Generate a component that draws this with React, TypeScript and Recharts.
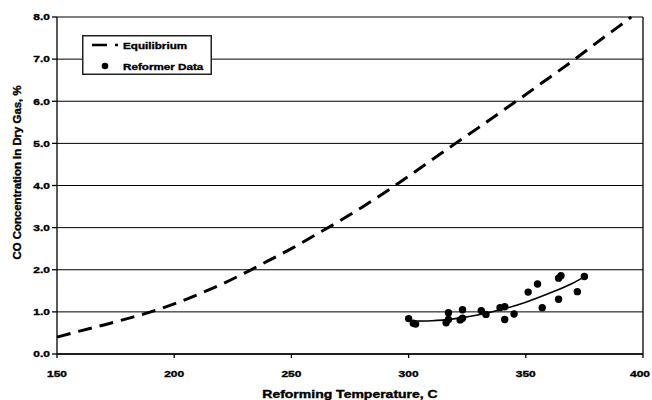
import {
  ComposedChart,
  Line,
  Scatter,
  XAxis,
  YAxis,
  CartesianGrid,
  Legend,
  ReferenceLine,
  Label,
} from 'recharts'

const FONT = '"Liberation Sans", Arial, sans-serif'

// equilibrium curve
const EQ_TEMP = [150, 160, 170, 180, 190, 200, 210, 220, 230, 240, 250, 260, 270, 280, 290, 300, 310, 320, 330, 340, 350, 360, 370, 380, 390, 395]
const EQ_CO = [0.4, 0.55, 0.69, 0.84, 1.0, 1.19, 1.41, 1.65, 1.92, 2.21, 2.5, 2.82, 3.14, 3.48, 3.84, 4.22, 4.61, 5.0, 5.38, 5.77, 6.16, 6.56, 6.96, 7.38, 7.79, 8.0]

// reformer measurements
const DATA_TEMP = [300, 302, 303, 316, 317, 317, 322, 323, 323, 331, 333, 339, 341, 341, 345, 351, 355, 357, 364, 365, 364, 372, 375]
const DATA_CO = [0.84, 0.73, 0.71, 0.74, 0.82, 0.98, 0.81, 1.05, 0.85, 1.03, 0.94, 1.1, 1.12, 0.82, 0.95, 1.47, 1.66, 1.1, 1.8, 1.86, 1.3, 1.48, 1.84]

// trendline through the measurements
const FIT_TEMP = [300, 310, 320, 330, 340, 350, 360, 370, 375]
const FIT_CO = [0.78, 0.79, 0.84, 0.93, 1.06, 1.23, 1.44, 1.68, 1.83]

const X_TICKS = [150, 200, 250, 300, 350, 400]
const Y_TICKS = [0, 1, 2, 3, 4, 5, 6, 7, 8]

const eqData = EQ_TEMP.map((t, i) => ({ t, co: EQ_CO[i] }))
const pointData = DATA_TEMP.map((t, i) => ({ t, co: DATA_CO[i] }))
const fitData = FIT_TEMP.map((t, i) => ({ t, co: FIT_CO[i] }))

// heavy bold text, like the original export
const textStyle = {
  fontWeight: 'bold' as const,
  fontFamily: FONT,
  fill: '#000',
  stroke: '#000',
  strokeWidth: 0.35,
}

function XTick({ x, y, payload }: any) {
  return (
    <text transform={`translate(${x},${y + 17}) scale(1.33,1)`} textAnchor="middle" fontSize={9} style={textStyle}>
      {payload.value}
    </text>
  )
}

function YTick({ x, y, payload }: any) {
  return (
    <text transform={`translate(${x},${y + 3.3}) scale(1.33,1)`} textAnchor="end" fontSize={9} style={textStyle}>
      {Number(payload.value).toFixed(1)}
    </text>
  )
}

function XTitle({ viewBox }: any) {
  return (
    <text
      transform={`translate(${viewBox.x + viewBox.width / 2},${viewBox.y + 43.5}) scale(1.4,1)`}
      textAnchor="middle"
      fontSize={10}
      style={textStyle}
    >
      Reforming Temperature, C
    </text>
  )
}

function YTitle({ viewBox }: any) {
  return (
    <text
      transform={`translate(${viewBox.x + 21},${viewBox.y + viewBox.height / 2 - 13}) rotate(-90) scale(1.14,1)`}
      textAnchor="middle"
      fontSize={10}
      style={textStyle}
    >
      CO Concentration In Dry Gas, %
    </text>
  )
}

function LegendBox() {
  return (
    <svg width={130} height={40} style={{ display: 'block' }}>
      <rect x={0.75} y={0.75} width={128.5} height={38.5} fill="#fff" stroke="#222" strokeWidth={1.5} />
      <line x1={10} y1={10} x2={36} y2={10} stroke="#000" strokeWidth={2.5} strokeDasharray="15 8" />
      <text transform="translate(41,13.5) scale(1.23,1)" fontSize={9.5} style={textStyle}>
        Equilibrium
      </text>
      <circle cx={23} cy={31} r={3.3} fill="#000" />
      <text transform="translate(41,34.5) scale(1.23,1)" fontSize={9.5} style={textStyle}>
        Reformer Data
      </text>
    </svg>
  )
}

export default function App() {
  return (
    <div style={{ position: 'absolute', left: 0, top: 0, width: 652, height: 400, background: '#fff' }}>
      <ComposedChart width={652} height={400} margin={{ top: 17, right: 9, left: 0, bottom: 0 }}>
        <CartesianGrid vertical={false} stroke="#000" strokeWidth={1} />
        <XAxis
          type="number"
          dataKey="t"
          domain={[150, 400]}
          ticks={X_TICKS}
          height={46}
          tickSize={4}
          tickMargin={2}
          stroke="#000"
          strokeWidth={1.3}
          tick={<XTick />}
          allowDuplicatedCategory={false}
        >
          <Label content={<XTitle />} />
        </XAxis>
        <YAxis
          type="number"
          dataKey="co"
          domain={[0, 8]}
          ticks={Y_TICKS}
          width={57}
          tickSize={5}
          tickMargin={2}
          stroke="#000"
          strokeWidth={1.3}
          tick={<YTick />}
        >
          <Label content={<YTitle />} />
        </YAxis>
        <ReferenceLine x={400} stroke="#000" strokeWidth={1.3} />
        <Legend
          layout="vertical"
          align="center"
          verticalAlign="middle"
          content={<LegendBox />}
          wrapperStyle={{ left: 82, top: 35, width: 130, height: 40 }}
        />
        <Line
          data={eqData}
          dataKey="co"
          type="monotone"
          stroke="#000"
          strokeWidth={3}
          strokeDasharray="14 8"
          dot={false}
          activeDot={false}
          isAnimationActive={false}
          legendType="none"
        />
        <Line
          data={fitData}
          dataKey="co"
          type="monotone"
          stroke="#000"
          strokeWidth={1.6}
          dot={false}
          activeDot={false}
          isAnimationActive={false}
          legendType="none"
        />
        <Scatter
          data={pointData}
          dataKey="co"
          fill="#000"
          isAnimationActive={false}
          shape={(p: any) => <circle cx={p.cx} cy={p.cy} r={3.7} fill="#000" />}
        />
      </ComposedChart>
    </div>
  )
}
